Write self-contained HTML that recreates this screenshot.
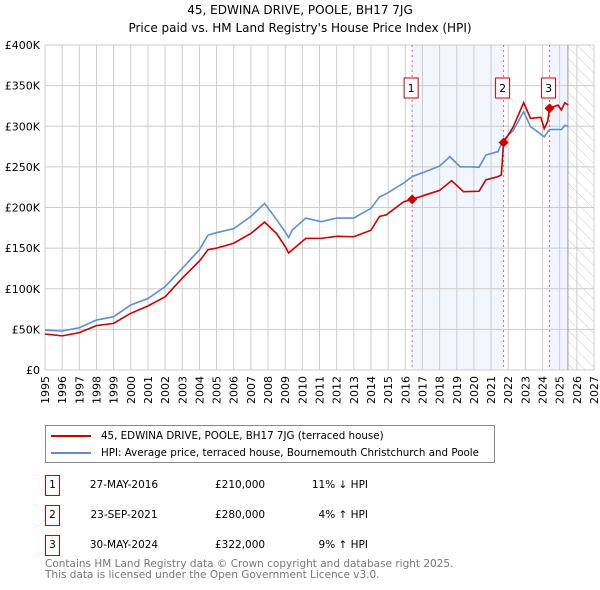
<!DOCTYPE html>
<html><head><meta charset="utf-8"><style>
body{margin:0;background:#fff;font-family:"DejaVu Sans","Liberation Sans",sans-serif;}
#wrap{position:relative;width:600px;height:590px;overflow:hidden;}
</style></head><body><div id="wrap">
<svg id="chart" width="600" height="590" font-family="DejaVu Sans, Liberation Sans, sans-serif">
<defs><pattern id="hatch" width="8" height="8" patternUnits="userSpaceOnUse" patternTransform="rotate(-45)"><line x1="0" y1="0" x2="0" y2="8" stroke="#ccc" stroke-width="1"/></pattern></defs>
<text x="300" y="14" text-anchor="middle" font-size="12">45, EDWINA DRIVE, POOLE, BH17 7JG</text>
<text x="300" y="32" text-anchor="middle" font-size="12">Price paid vs. HM Land Registry's House Price Index (HPI)</text>
<g id="bg"></g><g id="grid"></g><g id="lines"></g><g id="marks"></g><g id="axes"></g>
</svg>
<div style="position:absolute;left:45px;top:425px;width:448px;height:36px;border:1px solid #888;font-size:10.3px;">
 <div style="position:absolute;left:5px;top:4px;white-space:nowrap"><span style="display:inline-block;width:40px;height:2px;background:#cc0000;vertical-align:middle;margin-right:10px"></span>45, EDWINA DRIVE, POOLE, BH17 7JG (terraced house)</div>
 <div style="position:absolute;left:5px;top:21px;white-space:nowrap"><span style="display:inline-block;width:40px;height:2px;background:#5b8fd4;vertical-align:middle;margin-right:10px"></span>HPI: Average price, terraced house, Bournemouth Christchurch and Poole</div>
</div>
<div id="table" style="font-size:10.5px"></div>
<div style="position:absolute;left:45px;top:559px;font-size:10.5px;color:#777;line-height:11px">Contains HM Land Registry data © Crown copyright and database right 2025.<br>This data is licensed under the Open Government Licence v3.0.</div>
</div>
<script>
const hpiYears=[1995,1996,1997,1998,1999,2000,2001,2002,2003,2004,2004.5,2005,2006,2007,2007.8,2008.5,2009,2009.2,2009.4,2010.2,2011.1,2012,2013,2014,2014.5,2014.9,2015.9,2016.4,2017.4,2018,2018.6,2019.2,2019.8,2020.3,2020.7,2021.4,2021.7,2022.3,2022.9,2023.3,2024.1,2024.4,2025.1,2025.3,2025.5];
const hpiValues=[49,48,52,61.5,65.6,80,88,102.6,125,148,166,169,174,189,205,185,170,163,172,187,182.6,187,187,199,213,217,230,238,246,251,262.6,250,250,249.5,264.6,268.7,283,295,318,299.5,287,296,296,301,300];
const ppYears=[1995,1996,1997,1998,1999,2000,2001,2002,2003,2004,2004.5,2005,2006,2007,2007.8,2008.5,2009,2009.2,2010.2,2011.1,2012,2013,2014,2014.5,2014.9,2015.9,2016.4,2017.4,2018,2018.7,2019.4,2020.3,2020.7,2021.4,2021.6,2021.73,2022.3,2022.9,2023.3,2023.9,2024.1,2024.3,2024.41,2024.9,2025.1,2025.3,2025.5];
const ppValues=[44.3,42,46,54.6,57.4,69.8,78.8,90,113,134,148,150,156,168,182,168,152,144,162,162,164.5,164,172,189,191,207,210,217,221,233,219.5,220,234,238,240,280,299.5,329,309.7,311,297,306,322,326,320,329,326];
const saleYears=[2016.40,2021.73,2024.41];
const saleValues=[210,280,322];
const saleDates=["27-MAY-2016","23-SEP-2021","30-MAY-2024"];
const salePrices=["£210,000","£280,000","£322,000"];
const saleDiffs=["11% ↓ HPI","4% ↑ HPI","9% ↑ HPI"];
const yTicks=[0,50,100,150,200,250,300,350,400];
const yTickLabels=["£0","£50K","£100K","£150K","£200K","£250K","£300K","£350K","£400K"];
const xTicks=[1995,1996,1997,1998,1999,2000,2001,2002,2003,2004,2005,2006,2007,2008,2009,2010,2011,2012,2013,2014,2015,2016,2017,2018,2019,2020,2021,2022,2023,2024,2025,2026,2027];
const dataEnd=2025.48;
const L=45,R=594,T=45,B=370;
const X=y=>L+(y-1995)/(2027-1995)*(R-L);
const Y=v=>B-v/400*(B-T);
const NS="http://www.w3.org/2000/svg";
function mk(par,tag,at){const e=document.createElementNS(NS,tag);for(const k in at)e.setAttribute(k,at[k]);document.getElementById(par).appendChild(e);return e;}
let e;
e=mk('bg','rect',{x:X(saleYears[0]),y:T,width:X(saleYears[1])-X(saleYears[0]),height:B-T,fill:'#f1f5fd'});


e=mk('bg','rect',{x:X(saleYears[2]),y:T,width:X(dataEnd)-X(saleYears[2]),height:B-T,fill:'#f1f5fd'});


e=mk('bg','rect',{x:X(dataEnd),y:T,width:R-X(dataEnd),height:B-T,fill:'url(#hatch)'});


xTicks.forEach(t=>{e=mk('grid','line',{x1:X(t),x2:X(t),y1:T,y2:B,stroke:'#ccc','stroke-width':1});


e=mk('axes','text',{transform:`translate(${X(t)+4},${B+6}) rotate(-90)`,'text-anchor':'end','font-size':11});
e.textContent=t;

});
yTicks.forEach((t,i)=>{e=mk('grid','line',{x1:L,x2:R,y1:Y(t),y2:Y(t),stroke:'#ccc','stroke-width':1});


e=mk('axes','text',{x:L-5,y:Y(t)+4,'text-anchor':'end','font-size':11});
e.textContent=yTickLabels[i];

});
e=mk('grid','line',{x1:X(dataEnd),x2:X(dataEnd),y1:T,y2:B,stroke:'#999','stroke-width':1});


saleYears.forEach((s,i)=>{e=mk('grid','line',{x1:X(s),x2:X(s),y1:T,y2:B,stroke:'#e06060','stroke-width':1,'stroke-dasharray':'2,3'});

});
e=mk('lines','polyline',{points:hpiYears.map((y,i)=>X(y)+','+Y(hpiValues[i])).join(' '),fill:'none',stroke:'#5b8fd4','stroke-width':1.6});


e=mk('lines','polyline',{points:ppYears.map((y,i)=>X(y)+','+Y(ppValues[i])).join(' '),fill:'none',stroke:'#cc0000','stroke-width':1.6});


saleYears.forEach((s,i)=>{const cx=X(s),cy=Y(saleValues[i]);
e=mk('marks','polygon',{points:`${cx},${cy-5} ${cx+5},${cy} ${cx},${cy+5} ${cx-5},${cy}`,fill:'#cc0000'});


e=mk('marks','rect',{x:cx-8,y:78,width:14,height:20,fill:'#fff',stroke:'#cc0000','stroke-width':1});


e=mk('marks','text',{x:cx-1,y:92,'text-anchor':'middle','font-size':11});
e.textContent=String(i+1);

});
const tb=document.getElementById('table');
saleYears.forEach((s,i)=>{const top=475+i*30;const row=document.createElement('div');


row.style.cssText=`position:absolute;left:0;top:${top}px;width:600px;height:22px;`;
row.innerHTML=`<div style="position:absolute;left:45px;top:0;width:13px;height:19px;border:1px solid #cc0000;text-align:center;line-height:19px">${i+1}</div><div style="position:absolute;left:84px;top:4px;width:80px;text-align:center">${saleDates[i]}</div><div style="position:absolute;left:215px;top:4px">${salePrices[i]}</div><div style="position:absolute;left:268px;top:4px;width:100px;text-align:right">${saleDiffs[i]}</div>`;
tb.appendChild(row);});
</script>
</body></html>
